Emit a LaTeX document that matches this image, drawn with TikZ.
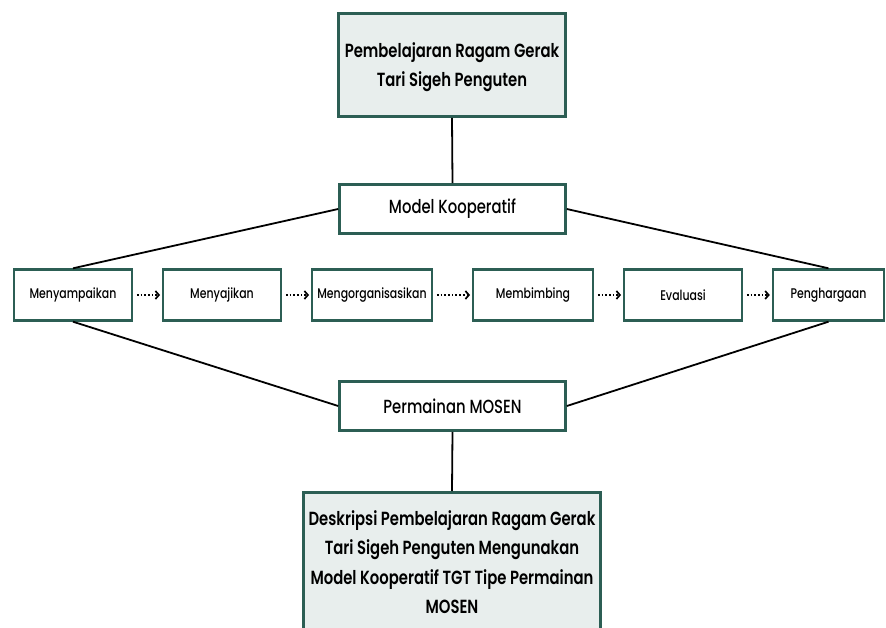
\documentclass[tikz,border=0pt]{standalone}
\usepackage{fontspec}
\setmainfont{Poppins Medium}[FakeStretch=0.78,BoldFont={Poppins SemiBold}]
\usepackage{tikz}
\usetikzlibrary{arrows.meta}
\definecolor{boxline}{RGB}{44,94,84}
\definecolor{boxfill}{RGB}{232,238,237}
\tikzstyle{every node}=[font=\fontsize{12}{14}\selectfont]
\tikzstyle{mainbox}=[draw=boxline,line width=2.6pt,fill=boxfill,align=center,inner sep=0pt,font=\fontsize{19}{29}\selectfont\bfseries]
\tikzstyle{midbox}=[draw=boxline,line width=2.6pt,fill=white,minimum width=226pt,minimum height=49pt,font=\fontsize{19}{22}\selectfont]
\tikzstyle{stepbox}=[draw=boxline,line width=2.4pt,fill=white,minimum height=51pt,font=\fontsize{14}{16}\selectfont]
\tikzstyle{link}=[line width=1.8pt]
\tikzstyle{flow}=[line width=1.7pt,dotted,-{Straight Barb[length=3.5pt,width=8pt]},shorten <=4pt,shorten >=2pt]

\begin{document}
\begin{tikzpicture}[x=1pt,y=-1pt]
\useasboundingbox (0,0) rectangle (886,628);
\begin{scope}
\clip (0,0) rectangle (886,628);
  \node[mainbox,minimum width=227pt,minimum height=103pt] (judul)
     at (452,65) {};
  \node[font=\fontsize{19}{29}\selectfont\bfseries,align=center] (judulteks)
     at (452,67) {Pembelajaran Ragam Gerak\\Tari Sigeh Penguten};
  \node[midbox] (model) at (452.5,209) {Model Kooperatif};
  \node[stepbox,minimum width=117.5pt] (menyampaikan) at (73,295) {Menyampaikan};
  \node[stepbox,minimum width=117.5pt] (menyajikan) at (222,295) {Menyajikan};
  \node[stepbox,minimum width=119.5pt] (mengorganisasikan) at (372,295) {Mengorganisasikan};
  \node[stepbox,minimum width=119.5pt] (membimbing) at (533,295) {Membimbing};
  \node[stepbox,minimum width=117.5pt] (evaluasi) at (683,295) {Evaluasi};
  \node[stepbox,minimum width=111pt] (penghargaan) at (828.5,295) {Penghargaan};
  \node[midbox] (mosen) at (452.5,406) {Permainan MOSEN};
  \node[mainbox,minimum width=297pt,minimum height=150pt,anchor=north] (deskripsi)
     at (452,491) {};
  \node[font=\fontsize{19}{29.5}\selectfont\bfseries,align=center] (isi)
     at (452,562) {Deskripsi Pembelajaran Ragam Gerak\\Tari Sigeh Penguten Mengunakan\\Model Kooperatif TGT Tipe Permainan\\MOSEN};
\end{scope}
  \draw[link] (judul.south) -- (model.north);
  \draw[link] (model.west) -- (menyampaikan.north);
  \draw[link] (model.east) -- (penghargaan.north);
  \draw[link] (menyampaikan.south) -- (mosen.west);
  \draw[link] (penghargaan.south) -- (mosen.east);
  \draw[link] (mosen.south) -- (deskripsi.north);
  \draw[flow] (menyampaikan) -- (menyajikan);
  \draw[flow] (menyajikan) -- (mengorganisasikan);
  \draw[flow] (mengorganisasikan) -- (membimbing);
  \draw[flow] (membimbing) -- (evaluasi);
  \draw[flow] (evaluasi) -- (penghargaan);
\end{tikzpicture}
\end{document}
